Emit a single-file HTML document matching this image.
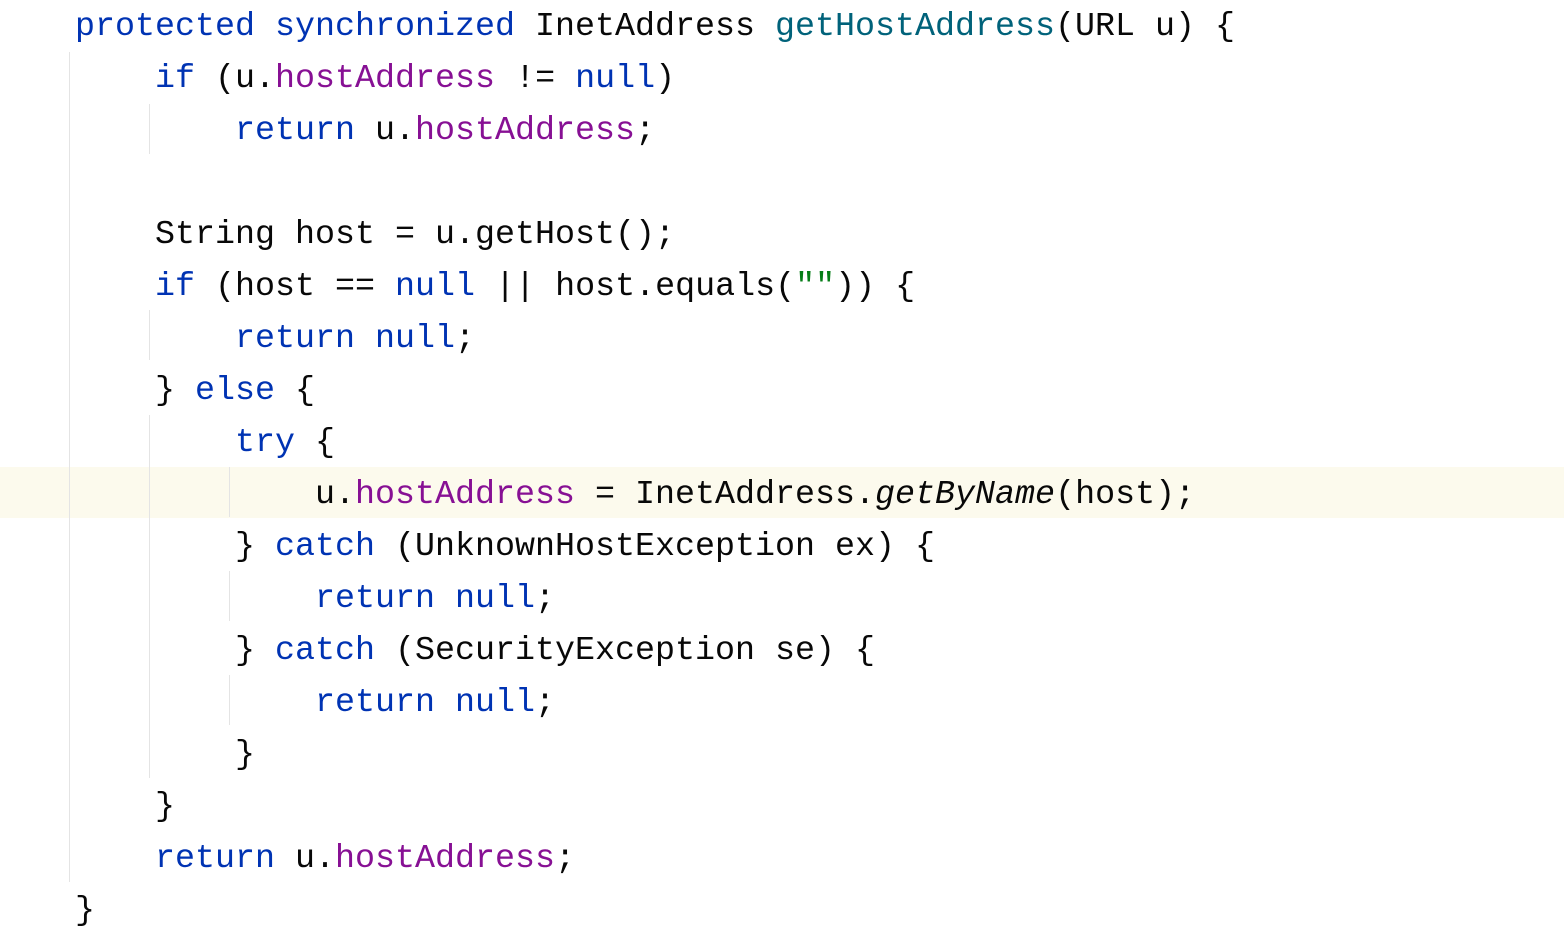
<!DOCTYPE html>
<html><head><meta charset="utf-8"><style>
body{margin:0;width:1564px;height:948px;background:#fff;overflow:hidden;position:relative;font-family:"Liberation Mono","DejaVu Sans Mono",monospace;font-size:33.33px;color:#080808}
.l{position:absolute;left:75px;height:52px;line-height:52px;white-space:pre}
.k{color:#0033b3}.f{color:#871094}.m{color:#00627a}.s{color:#067d17}.i{font-style:italic}
.g{position:absolute;width:1px;background:#e4e4e4}
.hl{position:absolute;left:0;width:1564px;top:467px;height:51px;background:#fcfaed}
</style></head><body>
<div class="hl"></div>
<div class="g" style="left:69px;top:52px;height:830px"></div>
<div class="g" style="left:149px;top:104px;height:50px"></div>
<div class="g" style="left:149px;top:310px;height:50px"></div>
<div class="g" style="left:149px;top:415px;height:363px"></div>
<div class="g" style="left:229px;top:467px;height:50px"></div>
<div class="g" style="left:229px;top:571px;height:50px"></div>
<div class="g" style="left:229px;top:675px;height:50px"></div>
<div class="l" style="top:1px"><span class="k">protected synchronized</span> InetAddress <span class="m">getHostAddress</span>(URL u) {</div>
<div class="l" style="top:53px">    <span class="k">if</span> (u.<span class="f">hostAddress</span> != <span class="k">null</span>)</div>
<div class="l" style="top:105px">        <span class="k">return</span> u.<span class="f">hostAddress</span>;</div>
<div class="l" style="top:209px">    String host = u.getHost();</div>
<div class="l" style="top:261px">    <span class="k">if</span> (host == <span class="k">null</span> || host.equals(<span class="s">""</span>)) {</div>
<div class="l" style="top:313px">        <span class="k">return null</span>;</div>
<div class="l" style="top:365px">    } <span class="k">else</span> {</div>
<div class="l" style="top:417px">        <span class="k">try</span> {</div>
<div class="l" style="top:469px">            u.<span class="f">hostAddress</span> = InetAddress.<span class="i">getByName</span>(host);</div>
<div class="l" style="top:521px">        } <span class="k">catch</span> (UnknownHostException ex) {</div>
<div class="l" style="top:573px">            <span class="k">return null</span>;</div>
<div class="l" style="top:625px">        } <span class="k">catch</span> (SecurityException se) {</div>
<div class="l" style="top:677px">            <span class="k">return null</span>;</div>
<div class="l" style="top:729px">        }</div>
<div class="l" style="top:781px">    }</div>
<div class="l" style="top:833px">    <span class="k">return</span> u.<span class="f">hostAddress</span>;</div>
<div class="l" style="top:885px">}</div>
</body></html>
